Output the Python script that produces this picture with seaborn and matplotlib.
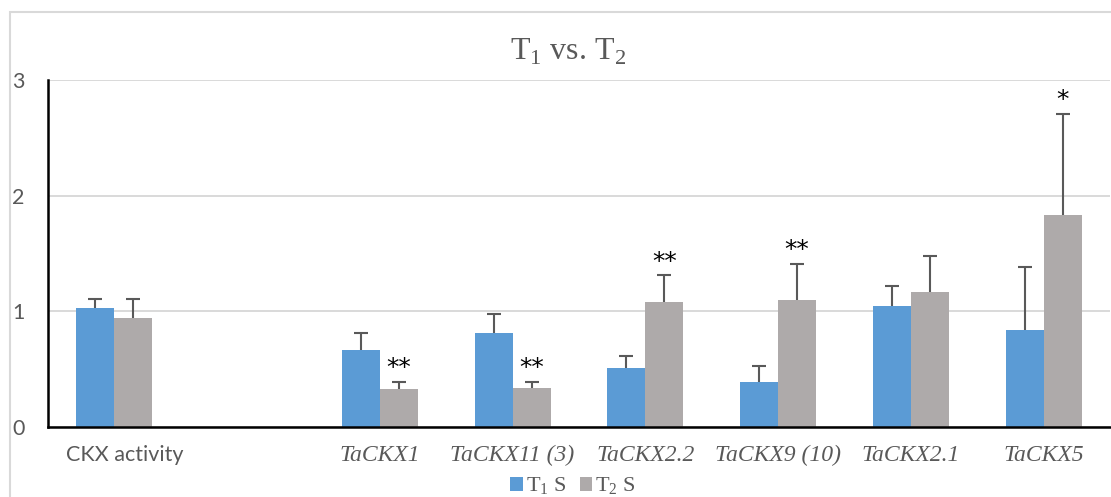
import matplotlib
matplotlib.use("Agg")
import matplotlib.pyplot as plt
from matplotlib.patches import Rectangle
import matplotlib.transforms as mtransforms
import seaborn as sns
import pandas as pd

# ---- data ----
categories = ["CKX activity", "TaCKX1", "TaCKX11 (3)", "TaCKX2.2", "TaCKX9 (10)", "TaCKX2.1", "TaCKX5"]
order = ["CKX activity", " ", "TaCKX1", "TaCKX11 (3)", "TaCKX2.2", "TaCKX9 (10)", "TaCKX2.1", "TaCKX5"]
groups = ["T$_\\mathregular{1}$ S", "T$_\\mathregular{2}$ S"]
t1_values = [1.03, 0.67, 0.81, 0.51, 0.39, 1.05, 0.84]
t1_errors = [0.08, 0.14, 0.17, 0.10, 0.14, 0.17, 0.54]
t2_values = [0.94, 0.33, 0.34, 1.08, 1.10, 1.17, 1.83]
t2_errors = [0.17, 0.06, 0.05, 0.23, 0.31, 0.31, 0.88]
t2_signif = ["", "**", "**", "**", "**", "", "*"]
yticks = [0, 1, 2, 3]
title = "T$_\\mathregular{1}$ vs. T$_\\mathregular{2}$"

blue = "#5B9BD5"
grey = "#AEAAAA"
txt = "#595959"

df = pd.DataFrame({
    "cat": categories * 2,
    "grp": [groups[0]] * len(categories) + [groups[1]] * len(categories),
    "val": t1_values + t2_values,
})
errs = {groups[0]: dict(zip(categories, t1_errors)), groups[1]: dict(zip(categories, t2_errors))}
sig = {groups[1]: dict(zip(categories, t2_signif))}

sns.set_style("white")
plt.rcParams["mathtext.fontset"] = "custom"
plt.rcParams["mathtext.rm"] = "Liberation Serif"

fig = plt.figure(figsize=(11.11, 4.97), dpi=100)
ax = fig.add_axes([48 / 1111, 1 - 427 / 497, (1110 - 48) / 1111, (427 - 80) / 497])

sns.barplot(data=df, x="cat", y="val", hue="grp", order=order, hue_order=groups,
            palette=[blue, grey], width=0.572, gap=0, errorbar=None, saturation=1,
            ax=ax, linewidth=0)

bar_containers = list(ax.containers)
for gi, cont in enumerate(bar_containers):
    g = groups[gi]
    for bar in cont:
        h = bar.get_height()
        if h != h:
            continue
        cx = bar.get_x() + bar.get_width() / 2
        cat = order[int(round(cx))]
        e = errs[g][cat]
        eb = ax.errorbar(cx, h, yerr=[[0], [e]], fmt="none", ecolor=txt, elinewidth=1.5,
                         capsize=4.7, capthick=1.5, zorder=3)
        caps = eb[1]
        if len(caps) > 1:
            caps[0].set_visible(False)
        if g in sig and sig[g][cat]:
            ax.text(cx, h + e + 0.12, sig[g][cat], ha="center", va="center",
                    fontsize=18, color="black", family="DejaVu Sans")

ax.set_xlim(-0.5, len(order) - 0.5)
ax.set_ylim(0, 3)
ax.set_yticks(yticks)
ax.set_xlabel("")
ax.set_ylabel("")
ax.yaxis.grid(True, color="#d9d9d9", lw=1.4)
ax.xaxis.grid(False)
ax.set_axisbelow(True)
for s in ["top", "right"]:
    ax.spines[s].set_visible(False)
for s in ["left", "bottom"]:
    ax.spines[s].set_color("black")
    ax.spines[s].set_linewidth(1.8)

ax.tick_params(axis="y", length=0, pad=17, labelsize=15.5, labelcolor=txt)
ax.tick_params(axis="x", length=0, pad=24.5, labelcolor=txt)
for lab in ax.get_yticklabels():
    lab.set_family("Lato")
shift = mtransforms.ScaledTranslation(10 / 100, 0, fig.dpi_scale_trans)
for lab in ax.get_xticklabels():
    lab.set_verticalalignment("baseline")
    if lab.get_text() == "CKX activity":
        lab.set_family("Lato")
        lab.set_fontsize(15.5)
        lab.set_transform(lab.get_transform() + shift)
    else:
        lab.set_family(["Liberation Serif", "DejaVu Serif"])
        lab.set_style("italic")
        lab.set_fontsize(17)

handles, labels = ax.get_legend_handles_labels()
if ax.get_legend() is not None:
    ax.get_legend().remove()
fig.legend(handles, labels, loc="center", bbox_to_anchor=(0.516, 0.021), ncol=2,
           frameon=False, handlelength=0.55, handleheight=0.55, handletextpad=0.15,
           columnspacing=0.6, prop={"family": "Liberation Serif", "size": 16},
           labelcolor=txt)

fig.text(0.511, 0.895, title, ha="center", va="center", fontsize=23,
         family="Liberation Serif", color=txt)

fig.patches.append(Rectangle((10 / 1111, -0.1), 1.2, (1 - 12 / 497) + 0.1,
                             transform=fig.transFigure, fill=False,
                             ec="#d9d9d9", lw=1.5))

fig.savefig("out.png", dpi=100)
